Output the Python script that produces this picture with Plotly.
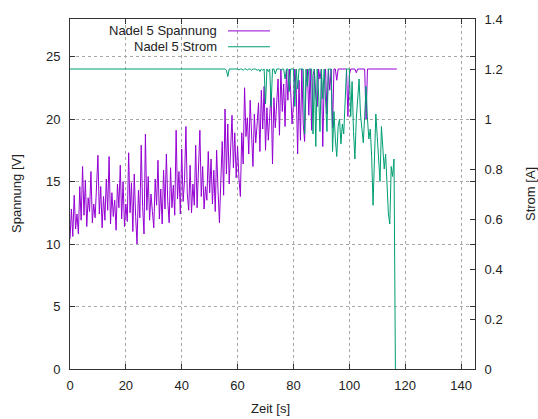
import plotly.graph_objects as go

# Needle 5 measurement: voltage (left axis) and current (right axis), sampled every 0.5 s
SAMPLE_STEP = 0.5

spannung_v = [
    # 0-10 s
    10.4, 12.8, 10.6, 13.9, 11.2, 12.4, 10.8, 14.6, 11.9, 16.2,
    12.3, 15.1, 11.4, 13.7, 12.6, 15.8, 11.7, 13.2, 12.1, 14.9,
    # 10-20 s
    17.1, 12.4, 14.6, 11.3, 13.8, 11.9, 15.2, 12.7, 17.0, 11.6,
    14.1, 12.2, 13.5, 11.1, 14.8, 12.9, 16.3, 12.0, 15.0, 11.4,
    # 20-30 s
    13.2, 11.8, 17.3, 12.5, 14.9, 11.0, 15.6, 12.2, 10.0, 14.3,
    12.1, 17.9, 13.0, 10.8, 18.8, 12.7, 15.4, 11.9, 14.0, 12.6,
    # 30-40 s
    11.3, 15.2, 13.1, 16.7, 12.0, 14.4, 11.6, 15.9, 12.8, 17.2,
    13.4, 11.7, 16.1, 12.9, 14.7, 12.3, 19.1, 13.6, 15.8, 12.4,
    # 40-50 s
    17.6, 13.4, 15.1, 19.4, 14.0, 12.7, 16.3, 12.5, 14.8, 13.1,
    17.9, 12.9, 15.5, 19.1, 13.8, 16.2, 12.8, 14.6, 13.5, 17.4,
    # 50-60 s
    14.1, 16.8, 13.2, 15.9, 12.6, 17.5, 14.3, 11.7, 15.1, 18.2,
    13.9, 20.8, 15.6, 19.6, 14.8, 17.3, 20.3, 16.1, 18.9, 15.3,
    # 60-70 s
    17.8, 15.2, 13.8, 18.9, 16.4, 22.5, 18.6, 20.1, 17.2, 21.5,
    19.0, 16.2, 20.4, 18.1, 19.6, 21.3, 17.4, 22.3, 19.2, 22.6,
    # 70-80 s
    17.5, 20.9, 18.3, 20.2, 22.1, 16.4, 21.7, 19.3, 21.0, 23.2,
    18.7, 24.0, 20.6, 22.8, 19.4, 23.9, 21.5, 24.0, 22.3, 19.6,
    # 80-90 s
    21.2, 24.0, 22.4, 17.2, 23.1, 18.3, 24.0, 19.6, 18.2, 22.7,
    24.0, 20.3, 24.0, 19.1, 23.5, 24.0, 21.8, 21.0, 24.0, 23.2,
    # 90-100 s
    24.0, 17.8, 22.9, 24.0, 20.4, 24.0, 22.3, 24.0, 19.3, 24.0,
    24.0, 23.1, 24.0, 24.0, 24.0, 24.0, 24.0, 24.0, 24.0, 20.2,
    # 100-110 s
    23.5, 24.0, 24.0, 24.0, 24.0, 23.7, 24.0, 24.0, 24.0, 24.0,
    24.0, 24.0, 20.0, 24.0, 24.0, 24.0, 24.0, 24.0, 24.0, 24.0,
    # 110-117 s
    24.0, 24.0, 24.0, 24.0, 24.0, 24.0, 24.0, 24.0, 24.0, 24.0,
    24.0, 24.0, 24.0, 24.0, 24.0,
]

strom_a = [
    # 0-55 s
    1.20, 1.20, 1.20, 1.20, 1.20, 1.20, 1.20, 1.20, 1.20, 1.20,
    1.20, 1.20, 1.20, 1.20, 1.20, 1.20, 1.20, 1.20, 1.20, 1.20,
    1.20, 1.20, 1.20, 1.20, 1.20, 1.20, 1.20, 1.20, 1.20, 1.20,
    1.20, 1.20, 1.20, 1.20, 1.20, 1.20, 1.20, 1.20, 1.20, 1.20,
    1.20, 1.20, 1.20, 1.20, 1.20, 1.20, 1.20, 1.20, 1.20, 1.20,
    1.20, 1.20, 1.20, 1.20, 1.20, 1.20, 1.20, 1.20, 1.20, 1.20,
    1.20, 1.20, 1.20, 1.20, 1.20, 1.20, 1.20, 1.20, 1.20, 1.20,
    1.20, 1.20, 1.20, 1.20, 1.20, 1.20, 1.20, 1.20, 1.20, 1.20,
    1.20, 1.20, 1.20, 1.20, 1.20, 1.20, 1.20, 1.20, 1.20, 1.20,
    1.20, 1.20, 1.20, 1.20, 1.20, 1.20, 1.20, 1.20, 1.20, 1.20,
    1.20, 1.20, 1.20, 1.20, 1.20, 1.20, 1.20, 1.20, 1.20, 1.20,
    # 55-60 s
    1.20, 1.20, 1.195, 1.17, 1.20, 1.20, 1.20, 1.20, 1.197, 1.20,
    # 60-70 s
    1.20, 1.196, 1.20, 1.20, 1.195, 1.20, 1.20, 1.196, 1.20, 1.20,
    1.195, 1.20, 1.20, 1.20, 1.194, 1.20, 1.19, 1.20, 1.195, 1.20,
    # 70-80 s
    1.06, 1.20, 1.19, 1.20, 1.05, 1.20, 1.20, 1.18, 1.20, 1.20,
    1.20, 1.195, 1.20, 1.20, 1.16, 1.20, 1.20, 1.11, 1.20, 1.20,
    # 80-90 s
    1.20, 1.05, 1.20, 1.12, 1.20, 1.20, 1.20, 1.20, 0.94, 1.20,
    1.13, 1.20, 1.20, 1.20, 0.94, 1.20, 0.89, 1.20, 1.10, 0.95,
    # 90-100 s
    1.20, 1.08, 1.20, 1.10, 0.95, 1.20, 1.20, 1.20, 0.87, 1.03,
    0.92, 0.85, 0.97, 1.00, 0.90, 0.98, 0.94, 1.10, 1.20, 1.20,
    # 100-110 s
    1.20, 1.01, 1.15, 0.95, 0.84, 1.00, 1.08, 1.16, 1.02, 0.95,
    0.905, 1.01, 1.13, 1.00, 0.92, 0.96, 0.85, 0.655, 0.88, 1.02,
    # 110-116.5 s
    0.93, 0.85, 0.75, 0.97, 0.88, 0.80, 0.86, 0.70, 0.62, 0.58,
    0.81, 0.77, 0.84, 0.00,
]

zeit_spannung = [i * SAMPLE_STEP for i in range(len(spannung_v))]
zeit_strom = [i * SAMPLE_STEP for i in range(len(strom_a))]

series_names = ["Nadel 5 Spannung", "Nadel 5 Strom"]
x_ticks = [0, 20, 40, 60, 80, 100, 120, 140]
y_ticks = [0, 5, 10, 15, 20, 25]
y2_ticks = [0, 0.2, 0.4, 0.6, 0.8, 1, 1.2, 1.4]

PURPLE = "#9400D3"
GREEN = "#009E73"
FONT = "Liberation Sans, Arial, sans-serif"
TEXT = "#222222"

W, H = 538, 419
L, R, T, B = 70, 63, 16, 50
pw, ph = W - L - R, H - T - B


def px_x(px):
    return (px - L) / pw


def px_y(py):
    return (H - B - py) / ph


fig = go.Figure()
fig.add_trace(go.Scatter(
    x=zeit_spannung, y=spannung_v, mode="lines", name=series_names[0],
    line=dict(color=PURPLE, width=1), yaxis="y", showlegend=False,
))
fig.add_trace(go.Scatter(
    x=zeit_strom, y=strom_a, mode="lines", name=series_names[1],
    line=dict(color=GREEN, width=1), yaxis="y2", showlegend=False,
))

grid = dict(showgrid=True, gridcolor="#a8a8a8", griddash="dot", gridwidth=1)
axis_line = dict(showline=True, linecolor="#333333", linewidth=1,
                 ticks="inside", ticklen=5, tickcolor="#333333",
                 tickfont=dict(family=FONT, size=13, color=TEXT), zeroline=False)

fig.update_layout(
    width=W, height=H, autosize=False,
    margin=dict(l=L, r=R, t=T, b=B, pad=0),
    paper_bgcolor="white", plot_bgcolor="white",
    font=dict(family=FONT, size=13, color=TEXT),
    xaxis=dict(range=[0, 145], tickvals=x_ticks, mirror="ticks",
               ticklabelstandoff=4, **grid, **axis_line),
    yaxis=dict(range=[0, 28], tickvals=y_ticks, mirror="ticks",
               ticklabelstandoff=6, **grid, **axis_line),
    yaxis2=dict(range=[0, 1.4], tickvals=y2_ticks, overlaying="y", side="right",
                showgrid=False, ticklabelstandoff=6, **axis_line),
)

# axis titles
fig.add_annotation(text="Zeit [s]", x=px_x(270), y=px_y(409), xref="paper", yref="paper",
                   showarrow=False, font=dict(size=13), xanchor="center", yanchor="middle")
fig.add_annotation(text="Spannung [V]", x=px_x(16), y=0.5, xref="paper", yref="paper",
                   showarrow=False, textangle=-90, font=dict(size=13),
                   xanchor="center", yanchor="middle")
fig.add_annotation(text="Strom [A]", x=px_x(530), y=0.5, xref="paper", yref="paper",
                   showarrow=False, textangle=-90, font=dict(size=13),
                   xanchor="center", yanchor="middle")

# key: right-justified labels followed by line samples
for name, color, row_y in [(series_names[0], PURPLE, 28), (series_names[1], GREEN, 44)]:
    fig.add_annotation(text=name, x=px_x(219), y=px_y(row_y), xref="paper", yref="paper",
                       showarrow=False, xanchor="right", yanchor="middle", font=dict(size=13))
    fig.add_shape(type="line", xref="paper", yref="paper",
                  x0=px_x(228), x1=px_x(270), y0=px_y(row_y), y1=px_y(row_y),
                  line=dict(color=color, width=1))

fig.write_html("out.html")
